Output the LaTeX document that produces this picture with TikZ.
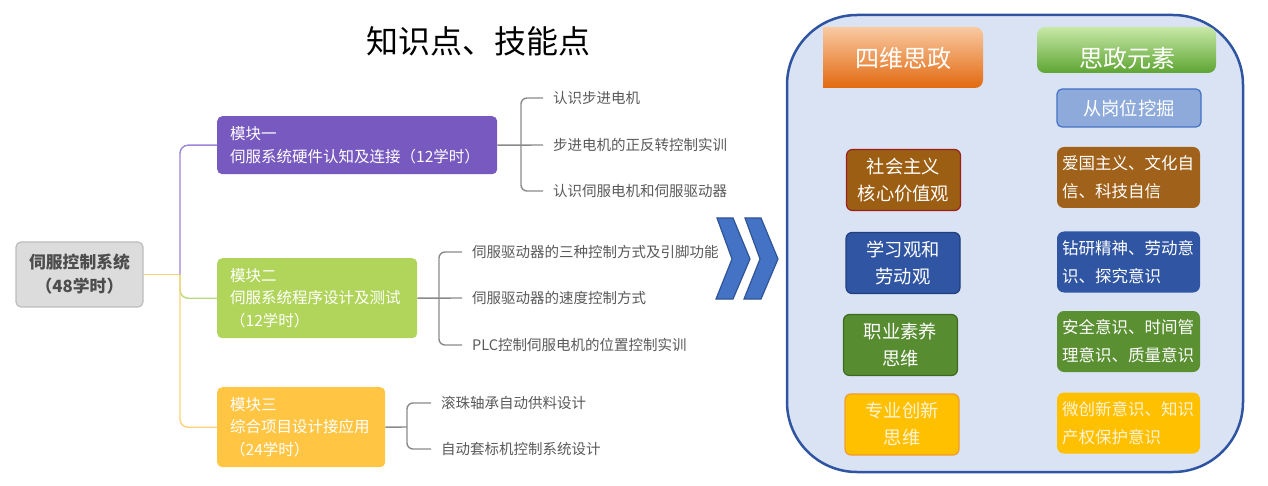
\documentclass[tikz,border=0pt]{standalone}
\usepackage{fontspec}
\setmainfont{Noto Sans CJK SC}
\usepackage{tikz}
\usetikzlibrary{calc,positioning}
\newcommand\fsz[2]{\fontsize{#1}{#2}\selectfont}
\definecolor{rootfill}{HTML}{DCDCDC}
\definecolor{rootedge}{HTML}{BDBDBD}
\definecolor{roottext}{HTML}{4D4D4D}
\definecolor{modpurple}{HTML}{7859BF}
\definecolor{modgreen}{HTML}{B1D55B}
\definecolor{modyellow}{HTML}{FFC543}
\definecolor{lnpurple}{HTML}{9C84D8}
\definecolor{lngreen}{HTML}{B5DC78}
\definecolor{lnorange}{HTML}{FFD27A}
\definecolor{lngray}{HTML}{8A8A8A}
\definecolor{leaftext}{HTML}{595959}
\definecolor{chevfill}{HTML}{4472C4}
\definecolor{chevedge}{HTML}{2F5597}
\definecolor{panelfill}{HTML}{DAE3F3}
\definecolor{paneledge}{HTML}{2F55A2}
\definecolor{hdrortop}{HTML}{F9C9A2}
\definecolor{hdrormid}{HTML}{EE8535}
\definecolor{hdrorbot}{HTML}{E2690F}
\definecolor{hdrgrtop}{HTML}{C8E8A8}
\definecolor{hdrgrmid}{HTML}{7DC243}
\definecolor{hdrgrbot}{HTML}{5EA532}
\definecolor{minefill}{HTML}{8EAADB}
\definecolor{mineedge}{HTML}{4472C4}
\definecolor{vbrown}{HTML}{9C5E12}
\definecolor{vbrownedge}{HTML}{9A1F1F}
\definecolor{vblue}{HTML}{2F55A3}
\definecolor{vblueedge}{HTML}{1F3F80}
\definecolor{vgreen}{HTML}{578C30}
\definecolor{vgreenedge}{HTML}{3E6A20}
\definecolor{vyellow}{HTML}{FFC000}
\definecolor{vyellowedge}{HTML}{F29A2E}
\definecolor{ebrown}{HTML}{A0611A}
\definecolor{egreen}{HTML}{5A8F32}
\definecolor{cream}{HTML}{FFF3D6}
\tikzset{
  every node/.style={inner sep=0pt},
  titletxt/.style={font=\fsz{32}{36},text=black},
  rootbox/.style={draw=rootedge,line width=1.2pt,fill=rootfill,rounded corners=5pt,
    minimum width=127pt,minimum height=65pt,align=center,text=roottext,font=\fsz{16.8}{24}\bfseries},
  modbox/.style={anchor=north west,rounded corners=5pt,text=white,align=left,
    inner xsep=13pt,font=\fsz{15.5}{22.5}},
  leaf/.style={anchor=west,text=leaftext,font=\fsz{14.5}{17}},
  branch/.style={draw=lngray,line width=1.4pt,rounded corners=6pt},
  link/.style={line width=1.4pt,rounded corners=8pt},
  chev/.style={fill=chevfill,draw=chevedge,line width=1.2pt,line join=miter},
  panel/.style={draw=paneledge,line width=2.5pt,fill=panelfill,rounded corners=70pt,
    minimum width=456pt,minimum height=457pt},
  hdrtxt/.style={text=white,font=\fsz{24}{28}},
  minebox/.style={draw=mineedge,line width=1.2pt,fill=minefill,rounded corners=5pt,
    minimum width=144pt,minimum height=38pt,text=white,font=\fsz{18.3}{22}},
  valbox/.style={rounded corners=6pt,line width=1.2pt,minimum width=114pt,minimum height=61pt,
    align=center,text=white,font=\fsz{18.3}{27}},
  elembox/.style={rounded corners=7pt,minimum width=143pt,minimum height=61pt,text width=133pt,
    inner xsep=5pt,align=left,text=white,font=\fsz{16.5}{28}},
}
\begin{document}
\begin{tikzpicture}[x=1pt,y=-1pt]
  \useasboundingbox (0,0) rectangle (1268,486);
  \node[titletxt] (title) at (478,41) {知识点、技能点};

  % mind map
  \node[rootbox] (root) at (79.5,274.5) {伺服控制系统\\（48学时）};
  \node[modbox,fill=modpurple,text width=254pt,minimum height=58pt] (m1) at (217,116)
    {模块一\\伺服系统硬件认知及连接（12学时）};
  \node[modbox,fill=modgreen,text width=174pt,minimum height=80pt] (m2) at (217,258)
    {模块二\\伺服系统程序设计及测试\\（12学时）};
  \node[modbox,fill=modyellow,text width=142pt,minimum height=80pt] (m3) at (217,387)
    {模块三\\综合项目设计接应用\\（24学时）};

  \coordinate (hub) at (180,274.5);
  \draw[link,draw=lnorange] (root.east) -- (hub);
  \draw[link,draw=lnpurple] (hub) |- (m1.west);
  \draw[link,draw=lngreen] (hub) |- (m2.west);
  \draw[link,draw=lnorange] (hub) |- (m3.west);

  \node[leaf] (l11) at (553,98) {认识步进电机};
  \node[leaf] (l12) at (553,145) {步进电机的正反转控制实训};
  \node[leaf] (l13) at (553,191) {认识伺服电机和伺服驱动器};
  \node[leaf] (l21) at (472,252) {伺服驱动器的三种控制方式及引脚功能};
  \node[leaf] (l22) at (472,298) {伺服驱动器的速度控制方式};
  \node[leaf] (l23) at (472,345) {PLC控制伺服电机的位置控制实训};
  \node[leaf] (l31) at (441,403) {滚珠轴承自动供料设计};
  \node[leaf] (l32) at (441,449) {自动套标机控制系统设计};

  \coordinate (sp1) at (521,145);
  \coordinate (sp2) at (439,298);
  \coordinate (sp3) at (407,427);
  \draw[branch] (m1.east) -- ([xshift=-10pt]l12.west);
  \draw[branch] ([xshift=-10pt]l11.west) -| (sp1) |- ([xshift=-10pt]l13.west);
  \draw[branch] (m2.east) -- ([xshift=-10pt]l22.west);
  \draw[branch] ([xshift=-10pt]l21.west) -| (sp2) |- ([xshift=-10pt]l23.west);
  \draw[branch] (m3.east) -- (sp3);
  \draw[branch] ([xshift=-10pt]l31.west) -| (sp3) |- ([xshift=-10pt]l32.west);

  % arrows
  \foreach \dx in {0,28}
    \draw[chev,xshift=\dx pt] (717,218) -- (733,218) -- (750,259) -- (733,299)
      -- (716,299) -- (732,259) -- cycle;

  % right panel
  \node[panel] (panel) at (1015,243.5) {};
  \shade[top color=hdrortop,middle color=hdrormid,bottom color=hdrorbot]
    (823,27) -- (975,27) .. controls (979.4,27) and (983,30.6) .. (983,35)
    -- (983,80) .. controls (983,84.4) and (979.4,88) .. (975,88) -- (823,88) -- cycle;
  \node[hdrtxt] (hdrA) at (903,58) {四维思政};
  \node[top color=hdrgrtop,middle color=hdrgrmid,bottom color=hdrgrbot,rounded corners=8pt,
    minimum width=179pt,minimum height=46pt] (hdrB) at (1126.5,50) {};
  \node[hdrtxt] (hdrBtxt) at (1127,58) {思政元素};
  \node[minebox] (mine) at (1129,108) {从岗位挖掘};

  \node[valbox,fill=vbrown,draw=vbrownedge] (v1) at (903.5,180) {社会主义\\核心价值观};
  \node[valbox,fill=vblue,draw=vblueedge] (v2) at (903,263) {学习观和\\劳动观};
  \node[valbox,fill=vgreen,draw=vgreenedge] (v3) at (900.5,345) {职业素养\\思维};
  \node[valbox,fill=vyellow,draw=vyellowedge,text=cream] (v4) at (902,424.5) {专业创新\\思维};

  \node[elembox,fill=ebrown] (e1) at (1128.5,177.5) {爱国主义、文化自\\信、科技自信};
  \node[elembox,fill=vblue] (e2) at (1128.5,262) {钻研精神、劳动意\\识、探究意识};
  \node[elembox,fill=egreen] (e3) at (1128.5,341.5) {安全意识、时间管\\理意识、质量意识};
  \node[elembox,fill=vyellow,text=cream] (e4) at (1128.5,423) {微创新意识、知识\\产权保护意识};
\end{tikzpicture}
\end{document}
